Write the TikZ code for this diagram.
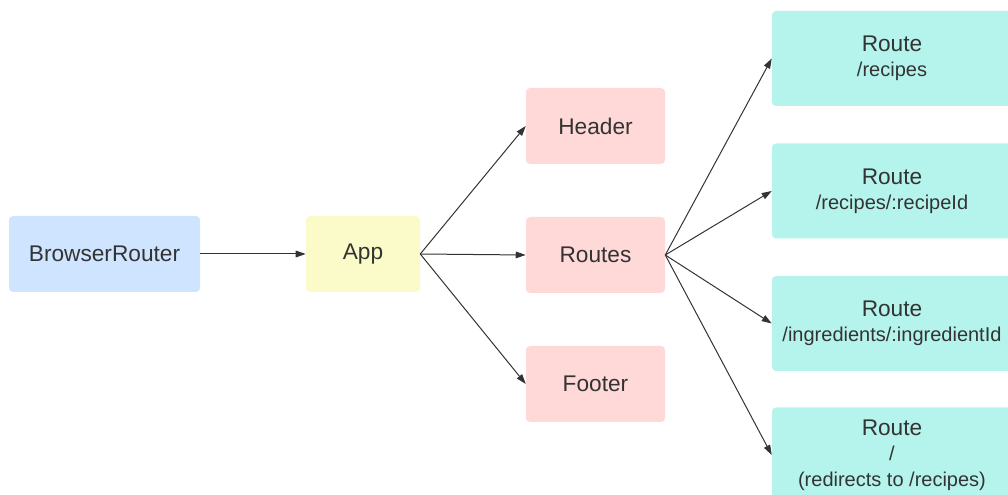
\documentclass[tikz,border=0pt]{standalone}
\usepackage{fontspec}
\setmainfont{Liberation Sans}
\usepackage{tikz}
\usetikzlibrary{arrows.meta}

\definecolor{routerblue}{RGB}{207,228,255}
\definecolor{appyellow}{RGB}{251,251,201}
\definecolor{layoutpink}{RGB}{255,216,216}
\definecolor{routeteal}{RGB}{181,244,236}
\definecolor{textgray}{RGB}{51,51,51}

\tikzset{
    box/.style={rounded corners=3pt, inner sep=0pt, text=textgray,
        align=center, font=\fontsize{17}{19}\selectfont},
    routebox/.style={box, fill=routeteal, minimum width=180pt, minimum height=71.25pt},
    link/.style={-{Triangle[length=7.5pt,width=5pt]}, line width=0.75pt, draw=textgray}
}
\newcommand{\sub}[1]{{\fontsize{15}{19}\selectfont #1}}

\begin{document}
\begin{tikzpicture}[x=0.75pt, y=-0.75pt]
        \clip (0,0) rectangle (1008,495);

        % Router and app
        \node[box, fill=routerblue, minimum width=143.25pt, minimum height=57pt] (router) at (104.5,254) {BrowserRouter};
        \node[box, fill=appyellow, minimum width=85.5pt, minimum height=57pt] (app) at (363,254) {App};

        % Layout
        \node[box, fill=layoutpink, minimum width=104.25pt, minimum height=57pt] (header) at (595.5,126) {Header};
        \node[box, fill=layoutpink, minimum width=104.25pt, minimum height=57pt] (routes) at (595.5,255) {Routes};
        \node[box, fill=layoutpink, minimum width=104.25pt, minimum height=57pt] (footer) at (595.5,384) {Footer};

        % Routes
        \node[routebox] (recipes) at (892,58.5) {Route\\\sub{/recipes}};
        \node[routebox] (recipe) at (892,191) {Route\\\sub{/recipes/:recipeId}};
        \node[routebox] (ingredient) at (892,323.5) {Route\\\sub{/ingredients/:ingredientId}};
        \node[routebox] (home) at (892,455) {Route\\\sub{/}\\\sub{(redirects to /recipes)}};

        % Arrows
        \draw[link] (router.east) -- (app.west);
        \draw[link] (app.east) -- (header.west);
        \draw[link] (app.east) -- (routes.west);
        \draw[link] (app.east) -- (footer.west);
        \draw[link] (routes.east) -- (recipes.west);
        \draw[link] (routes.east) -- (recipe.west);
        \draw[link] (routes.east) -- (ingredient.west);
        \draw[link] (routes.east) -- (home.west);
    \end{tikzpicture}
\end{document}
